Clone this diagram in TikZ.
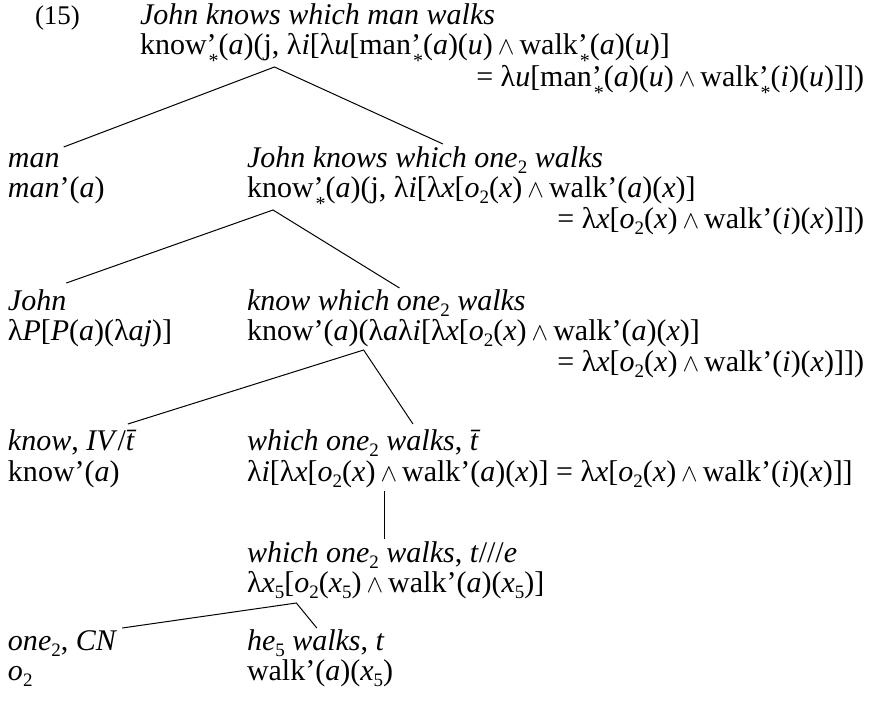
\documentclass[tikz,border=0pt]{standalone}
\usepackage{fontspec}
\setmainfont{Liberation Serif}
\usetikzlibrary{calc}
\newcommand\lam{λ}
\newcommand\ps{'\kern-8pt\smash{\raisebox{-13pt}{\fontsize{20}{20}\selectfont *}}}
\newcommand\w{\,\ensuremath{\wedge}\,}
\newcommand\sub[1]{\smash{\raisebox{-0.22em}{\fontsize{19}{19}\selectfont\upshape #1}}}
\begin{document}
\begin{tikzpicture}[x=1pt,y=-1pt,
  every node/.style={inner sep=0pt,outer sep=0pt,font=\fontsize{30}{31}\selectfont},
  tx/.style={anchor=base west},
  rt/.style={anchor=base east},
  br/.style={line width=1pt}]
\useasboundingbox[fill=white] (0,0) rectangle (877,701);
% row A
\node[tx,font=\fontsize{27}{30}\selectfont] (n15) at (35,25) {(15)};
\node[tx] (a1) at (140,25) {\textit{John knows which man walks}};
\node[tx] (a2a) at (140,55) {know\ps(\textit{a})(j,};
\node[tx] (a2b) at (a2a.base east) {\ \lam\textit{i}[\lam\textit{u}[man\ps(\textit{a})(\textit{u})\w walk\ps(\textit{a})(\textit{u})]};
\node[rt] (a3) at (864,86) {= \lam\textit{u}[man\ps(\textit{a})(\textit{u})\w walk\ps(\textit{i})(\textit{u})]])};
% row B
\node[tx] (b0) at (8,167) {\textit{man}};
\node[tx] (b0b) at (8,197) {\textit{man}'(\textit{a})};
\node[tx] (b1a) at (247,167) {\textit{John knows which}};
\node[tx] (b1b) at (b1a.base east) {\ \textit{one\sub{2} walks}};
\node[tx] (b2a) at (247,197) {kn};
\node[tx] (b2b) at (b2a.base east) {ow\ps(\textit{a})(j, \lam\textit{i}[\lam\textit{x}[\textit{o}\sub{2}(\textit{x})\w walk'(\textit{a})(\textit{x})]};
\node[rt] (b3) at (864,228) {= \lam\textit{x}[\textit{o}\sub{2}(\textit{x})\w walk'(\textit{i})(\textit{x})]])};
% row C
\node[tx] (c0) at (8,310) {\textit{John}};
\node[tx] (c0b) at (8,340) {\lam\textit{P}[\textit{P}(\textit{a})(\lam\textit{aj})]};
\node[tx] (c1a) at (247,310) {\textit{know which}};
\node[tx] (c1b) at (c1a.base east) {\ \textit{one\sub{2} walks}};
\node[tx] (c2a) at (247,340) {know'(\textit{a})(};
\node[tx] (c2b) at (c2a.base east) {\lam\textit{a}\lam\textit{i}[\lam\textit{x}[\textit{o}\sub{2}(\textit{x})\w walk'(\textit{a})(\textit{x})]};
\node[rt] (c3) at (864,371) {= \lam\textit{x}[\textit{o}\sub{2}(\textit{x})\w walk'(\textit{i})(\textit{x})]])};
% row D
\node[tx] (d0a) at (8,450) {\textit{know}, \textit{IV}/};
\node[tx] (d0b) at (d0a.base east) {\textit{\=t}};
\node[tx] (d0c) at (8,481) {know'(\textit{a})};
\node[tx] (d1a) at (247,450) {\textit{which one\sub{2}}};
\node[tx] (d1b) at (d1a.base east) {\ \textit{walks}, \textit{\=t}};
\node[tx] (d2) at (247,481) {\lam\textit{i}[\lam\textit{x}[\textit{o}\sub{2}(\textit{x})\w walk'(\textit{a})(\textit{x})] = \lam\textit{x}[\textit{o}\sub{2}(\textit{x})\w walk'(\textit{i})(\textit{x})]]};
% row E
\node[tx] (e1a) at (247,562) {\textit{which one\sub{2}}};
\node[tx] (e1b) at (e1a.base east) {\ \textit{walks}, \textit{t}///\textit{e}};
\node[tx] (e2a) at (247,592) {\lam\textit{x}\sub{5}[};
\node[tx] (e2b) at (e2a.base east) {\textit{o}\sub{2}(\textit{x}\sub{5})\w walk'(\textit{a})(\textit{x}\sub{5})]};
% row F
\node[tx] (f0a) at (8,650) {\textit{one\sub{2}}, \textit{CN}};
\node[tx] (f0b) at (8,680) {\textit{o}\sub{2}};
\node[tx] (f1a) at (247,650) {\textit{he\sub{5}}};
\node[tx] (f1b) at (f1a.base east) {\ \textit{walks}, \textit{t}};
\node[tx] (f2) at (247,680) {walk'(\textit{a})(\textit{x}\sub{5})};
% branch points
\coordinate (pA) at ($(a2a.base east)+(-5,12)$);
\coordinate (lA) at ($(b0.base east)+(4,-20)$);
\coordinate (rA) at ($(b1a.base east)+(-24,-23)$);
\coordinate (pB) at ($(b2a.base east)+(-4,13)$);
\coordinate (lB) at ($(c0.base east)+(0,-27)$);
\coordinate (rB) at ($(c1a.base east)+(10,-22)$);
\coordinate (pC) at ($(c2a.base east)+(-5,10)$);
\coordinate (lC) at ($(d0a.base east)+(2,-26)$);
\coordinate (rC) at ($(d1b.base west)+(34,-26)$);
\coordinate (tD) at ($(e1a.base east)+(6,0)$);
\coordinate (pE) at ($(e2a.base east)+(2,11)$);
\coordinate (lE) at ($(f0a.base east)+(5,-22)$);
\coordinate (rE) at ($(f1b.base west)+(32,-22)$);
\draw[br] (lA) -- (pA) -- (rA);
\draw[br] (lB) -- (pB) -- (rB);
\draw[br] (lC) -- (pC) -- (rC);
\draw[br] ($(tD |- d2.base)+(0,10)$) -- ($(tD)+(0,-23)$);
\draw[br] (lE) -- (pE) -- (rE);
\end{tikzpicture}
\end{document}
